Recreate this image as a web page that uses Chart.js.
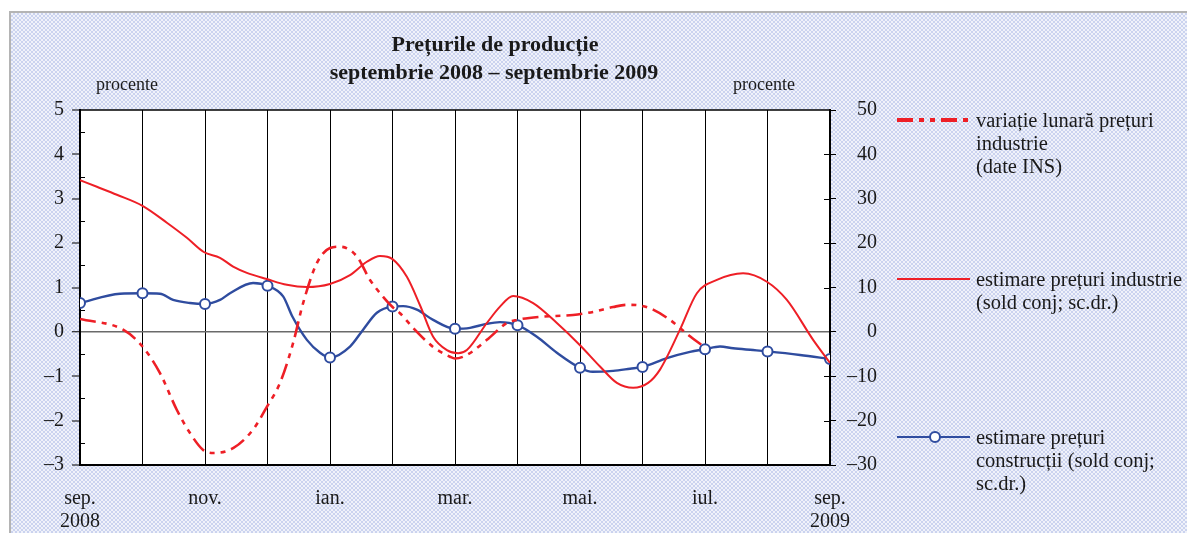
<!DOCTYPE html>
<html><head><meta charset="utf-8">
<script src="https://cdn.jsdelivr.net/npm/chart.js@4/dist/chart.umd.min.js"></script>
<style>
html,body{margin:0;padding:0;background:#fff;width:1187px;height:533px;overflow:hidden;}
#frame{position:absolute;left:9px;top:11px;width:1178px;height:522px;border-left:2px solid #b4b4b4;border-top:2px solid #b4b4b4;
background-color:#f0f2fa;
background-image: conic-gradient(#cbd3ef 25%, transparent 0 50%, #cbd3ef 0 75%, transparent 0);
background-size:4px 4px;}
#wrap{position:absolute;left:0;top:0;width:1187px;height:533px;}
</style></head><body>
<div id="frame"></div>
<div id="wrap"><canvas id="c" width="1187" height="533"></canvas></div>
<script>
// ---- data ----
const monthLabels = [['sep.','2008'],'','nov.','','ian.','','mar.','','mai.','','iul.','',['sep.','2009']];

// variatie lunara preturi industrie (left axis, %), x = months since sep 2008
const varMonths = [0,0.69,1.0,1.28,1.55,1.76,1.97,2.13,2.45,2.77,2.99,3.2,3.41,3.57,3.79,4.0,4.16,4.43,4.64,4.85,5.0,5.12,5.33,5.65,5.92,6.0,6.19,6.51,6.83,6.99,7.36,7.89,8.21,8.53,8.75,8.98,9.17,9.44,9.76,10.0];
const varValues = [0.29,0.05,-0.33,-0.93,-1.76,-2.28,-2.66,-2.73,-2.62,-2.2,-1.69,-1.15,-0.25,0.65,1.55,1.89,1.92,1.7,1.17,0.79,0.56,0.42,0.09,-0.34,-0.56,-0.6,-0.52,-0.18,0.2,0.27,0.34,0.38,0.45,0.56,0.61,0.59,0.5,0.27,-0.1,-0.35];

// estimare preturi industrie (right axis, sold conj.)
const indMonths = [0,0.27,0.59,1.0,1.39,1.71,1.98,2.24,2.45,2.67,2.99,3.31,3.63,4.0,4.32,4.59,4.8,5.0,5.23,5.44,5.65,5.87,6.05,6.19,6.51,6.72,6.93,7.25,7.63,8.0,8.32,8.59,8.85,9.09,9.28,9.6,9.87,10.19,10.61,10.99,11.31,11.73,12.0];
const indValues = [34.2,32.7,30.9,28.4,24.6,21.2,18.0,16.7,14.7,13.3,11.9,10.6,10.1,10.8,12.8,15.8,17.1,16.4,12.4,6.0,-1.1,-4.1,-4.8,-4.1,2.0,5.7,8.1,6.5,2.0,-3.0,-7.8,-11.5,-12.6,-11.5,-8.5,0.5,8.7,11.7,13.2,11.3,7.2,-1.8,-7.0];

// estimare preturi constructii (right axis, sold conj.)
const conMonths = [0,0.64,1,1.28,1.49,1.76,2,2.24,2.4,2.77,3,3.25,3.4,3.63,3.84,4,4.32,4.53,4.75,5,5.17,5.39,5.65,6,6.24,6.5,6.72,7,7.31,7.63,8,8.2,8.53,8.8,9,9.39,9.76,10,10.24,10.45,10.77,11,11.52,12];
const conValues = [6.5,8.6,8.7,8.6,7.2,6.5,6.3,7.2,8.7,11.0,10.4,8.0,3.4,-1.8,-4.7,-5.8,-3.3,0.5,4.3,5.7,5.8,5.0,2.7,0.7,0.9,1.8,2.2,1.5,-1.1,-4.7,-8.1,-9.0,-8.8,-8.3,-7.9,-5.9,-4.5,-3.9,-3.3,-3.7,-4.1,-4.4,-5.2,-6.1];

const legendLines = [
  ['variație lunară prețuri','industrie','(date INS)'],
  ['estimare prețuri industrie','(sold conj; sc.dr.)'],
  ['estimare prețuri','construcții (sold conj;','sc.dr.)']
];
const titleLines = ['Prețurile de producție','septembrie 2008 – septembrie 2009'];
const axisUnit = 'procente';

const RED = '#ee1f26', BLUE = '#2f4c9f', TXT = '#1a1a1a';
const FONT = '"Liberation Serif", "Times New Roman", serif';
const toXY = (xs, ys) => xs.map((x, i) => ({x, y: ys[i]}));
const fmtMinus = v => String(v).replace('-', '–');

const decor = {
  id: 'decor',
  beforeDraw(chart) {
    const {ctx, chartArea: a} = chart;
    ctx.save();
    ctx.fillStyle = '#fff';
    ctx.fillRect(a.left, a.top, a.right - a.left, a.bottom - a.top);
    ctx.restore();
  },
  afterDraw(chart) {
    const {ctx, chartArea: a, scales} = chart;
    ctx.save();
    ctx.strokeStyle = '#000'; ctx.lineWidth = 1.5;
    ctx.beginPath(); ctx.moveTo(a.left, a.top); ctx.lineTo(a.right, a.top); ctx.stroke();
    ctx.lineWidth = 1;
    for (let v = -2.5; v < 5; v += 1) {
      const y = Math.round(scales.y.getPixelForValue(v)) + 0.5;
      ctx.beginPath(); ctx.moveTo(a.left, y); ctx.lineTo(a.left + 5, y); ctx.stroke();
    }
    for (let v = -20; v < 50; v += 10) {
      if (v === 0) continue;
      const y = Math.round(scales.y2.getPixelForValue(v)) + 0.5;
      ctx.beginPath(); ctx.moveTo(a.right - 6, y); ctx.lineTo(a.right, y); ctx.stroke();
    }
    ctx.fillStyle = TXT; ctx.textAlign = 'center'; ctx.textBaseline = 'middle';
    ctx.font = 'bold 22px ' + FONT;
    ctx.fillText(titleLines[0], 495, 45);
    ctx.fillText(titleLines[1], 494, 73);
    ctx.font = '18px ' + FONT;
    ctx.textAlign = 'left';
    ctx.fillText(axisUnit, 96, 85);
    ctx.fillText(axisUnit, 733, 85);
    const ds = chart.data.datasets;
    const lx0 = 897, lx1 = 970, tx = 976, lh = 23;
    const entries = [{y: 120, d: ds[0], w: 4}, {y: 279, d: ds[1], w: 2}, {y: 437, d: ds[2], w: 2}];
    ctx.font = '20.5px ' + FONT;
    entries.forEach((e, i) => {
      ctx.save();
      ctx.strokeStyle = e.d.borderColor; ctx.lineWidth = e.w;
      ctx.setLineDash(e.d.borderDash || []);
      ctx.beginPath(); ctx.moveTo(lx0, e.y); ctx.lineTo(lx1, e.y); ctx.stroke();
      ctx.restore();
      if (i === 2) {
        ctx.save();
        ctx.beginPath(); ctx.arc(935, e.y, 5, 0, Math.PI * 2);
        ctx.fillStyle = '#fff'; ctx.fill();
        ctx.strokeStyle = BLUE; ctx.lineWidth = 2; ctx.stroke();
        ctx.restore();
      }
      ctx.fillStyle = TXT;
      legendLines[i].forEach((t, k) => ctx.fillText(t, tx, e.y + 2 + k * lh));
    });
    ctx.restore();
  }
};

new Chart(document.getElementById('c'), {
  type: 'line',
  data: {
    datasets: [
      {label: legendLines[0].join(' '), data: toXY(varMonths, varValues), yAxisID: 'y',
       borderColor: RED, borderWidth: 2.6, borderDash: [16, 6, 5, 6, 5, 6], pointRadius: 0,
       cubicInterpolationMode: 'monotone', fill: false},
      {label: legendLines[1].join(' '), data: toXY(indMonths, indValues), yAxisID: 'y2',
       borderColor: RED, borderWidth: 2, pointRadius: 0, cubicInterpolationMode: 'monotone', fill: false},
      {label: legendLines[2].join(' '), data: toXY(conMonths, conValues), yAxisID: 'y2',
       borderColor: BLUE, borderWidth: 2.4, cubicInterpolationMode: 'monotone', fill: false,
       pointRadius: c => (c.raw && Number.isInteger(c.raw.x)) ? 5 : 0,
       pointBackgroundColor: '#fff', pointBorderColor: BLUE, pointBorderWidth: 2}
    ]
  },
  options: {
    responsive: false, animation: false, devicePixelRatio: 1,
    layout: {padding: {top: 110, left: 0, right: 310, bottom: 0}},
    plugins: {legend: {display: false}, title: {display: false}, tooltip: {enabled: false}},
    scales: {
      x: {type: 'linear', min: 0, max: 12, position: 'bottom',
          afterBuildTicks: s => { s.ticks = monthLabels.map((_, i) => ({value: i})); },
          afterFit: s => { s.height = 68; },
          grid: {color: '#000', lineWidth: 1, drawTicks: false},
          border: {color: '#000', width: 2},
          ticks: {autoSkip: false, maxRotation: 0, padding: 22, color: TXT,
                  font: {family: FONT, size: 20, lineHeight: 1.15},
                  callback: v => monthLabels[v]}},
      y: {type: 'linear', position: 'left', min: -3, max: 5,
          afterFit: s => { s.width = 80; },
          grid: {color: c => c.tick.value === 0 ? '#6a6a6a' : 'rgba(0,0,0,0)', lineWidth: c => c.tick.value === 0 ? 1.5 : 0,
                 tickColor: '#000', tickLength: 8, tickWidth: 1},
          border: {color: '#000', width: 2},
          ticks: {stepSize: 1, padding: 8, color: TXT, font: {family: FONT, size: 20}, callback: fmtMinus}},
      y2: {type: 'linear', position: 'right', min: -30, max: 50,
          afterFit: s => { s.width = 47; },
          grid: {drawOnChartArea: false, tickColor: '#000', tickLength: 6, tickWidth: 1},
          border: {color: '#000', width: 2},
          ticks: {stepSize: 10, padding: 6, crossAlign: 'far', color: TXT, font: {family: FONT, size: 20}, callback: fmtMinus}}
    }
  },
  plugins: [decor]
});
</script>
</body></html>
